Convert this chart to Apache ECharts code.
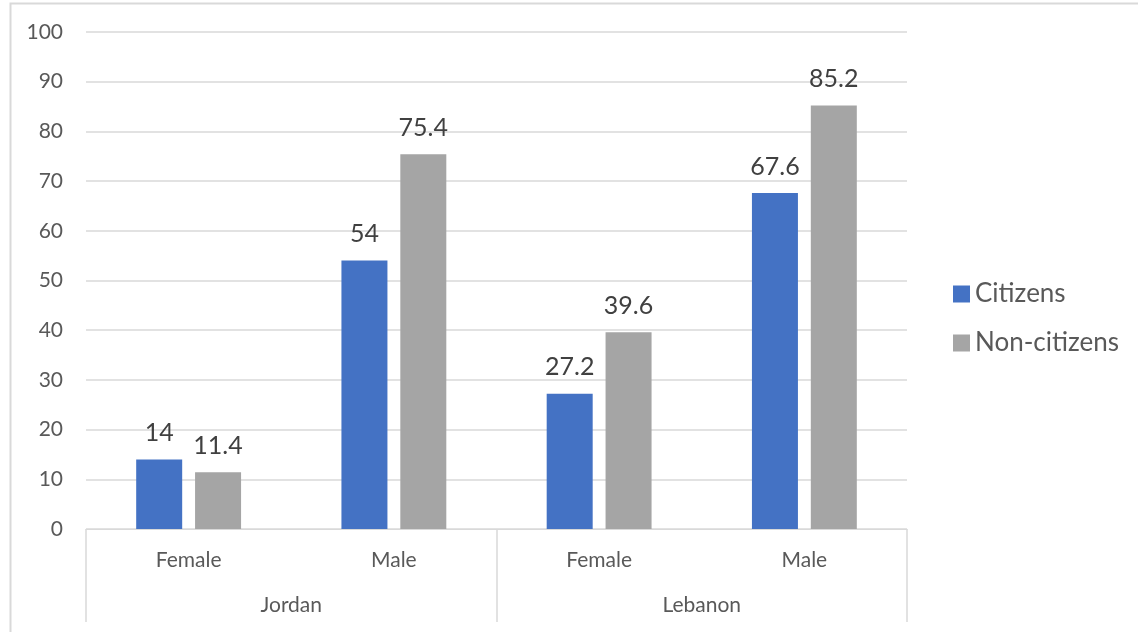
<!DOCTYPE html>
<html>
<head>
<meta charset="utf-8">
<script src="https://cdn.jsdelivr.net/npm/echarts@6/dist/echarts.min.js"></script>
<style>
html,body{margin:0;padding:0;background:#fff;}
#chart{width:1138px;height:632px;}
</style>
</head>
<body>
<div id="chart"></div>
<script>
// data
var genders = ['Female', 'Male', 'Female', 'Male'];
var countries = ['Jordan', 'Lebanon'];
var citizens = [14, 54, 27.2, 67.6];
var nonCitizens = [11.4, 75.4, 39.6, 85.2];
var yTicks = [0, 100, 10]; // min, max, step

var font = 'Lato, "Open Sans", sans-serif';
var gridColor = '#d9d9d9';

var chart = echarts.init(document.getElementById('chart'), null, {renderer: 'canvas'});

var labelStyle = {
	show: true,
	position: 'top',
	distance: 14,
	fontFamily: font,
	fontSize: 25,
	color: '#404040'
};

var option = {
	backgroundColor: '#fff',
	animation: false,
	graphic: [{
		type: 'rect',
		shape: {x: 10.5, y: 3.5, width: 1200, height: 700},
		style: {fill: 'none', stroke: gridColor, lineWidth: 2},
		silent: true
	}],
	legend: {
		orient: 'vertical',
		left: 948,
		top: 276,
		itemWidth: 17,
		itemHeight: 17,
		itemGap: 23,
		icon: 'rect',
		textStyle: {fontFamily: font, fontSize: 26, color: '#595959'},
		data: ['Citizens', 'Non-citizens']
	},
	grid: {left: 86, right: 231, top: 32, bottom: 103, containLabel: false},
	xAxis: [{
		type: 'category',
		data: genders,
		position: 'bottom',
		axisLine: {show: true, lineStyle: {color: gridColor, width: 1}},
		axisTick: {show: false},
		axisLabel: {fontFamily: font, fontSize: 21, color: '#595959', margin: 21}
	}, {
		type: 'category',
		data: countries,
		position: 'bottom',
		axisLine: {show: false},
		axisTick: {show: true, length: 93, lineStyle: {color: gridColor, width: 1.5}},
		axisLabel: {fontFamily: font, fontSize: 21, color: '#595959', margin: 66}
	}],
	yAxis: {
		type: 'value',
		min: yTicks[0],
		max: yTicks[1],
		interval: yTicks[2],
		axisLine: {show: false},
		axisTick: {show: false},
		splitLine: {lineStyle: {color: gridColor, width: 1.5}},
		axisLabel: {fontFamily: font, fontSize: 21, color: '#595959', margin: 23}
	},
	series: [{
		name: 'Citizens',
		type: 'bar',
		data: citizens,
		barWidth: 46,
		barGap: '28%',
		itemStyle: {color: '#4472C4'},
		label: labelStyle
	}, {
		name: 'Non-citizens',
		type: 'bar',
		data: nonCitizens,
		barWidth: 46,
		barGap: '28%',
		itemStyle: {color: '#A5A5A5'},
		label: labelStyle
	}]
};

chart.setOption(option);
</script>
</body>
</html>
